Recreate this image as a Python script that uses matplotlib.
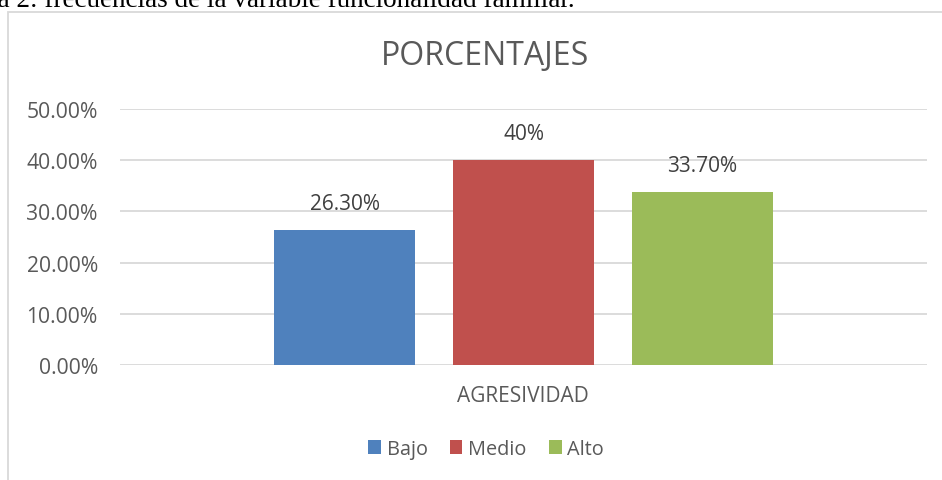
import matplotlib
matplotlib.use("Agg")
import matplotlib.pyplot as plt
from matplotlib.patches import Rectangle

W, H = 942, 481
plt.rcParams["font.family"] = ["Open Sans", "DejaVu Sans"]

CATEGORY = "AGRESIVIDAD"
SERIES = ["Bajo", "Medio", "Alto"]
VALUES = [26.3, 40.0, 33.7]
LABELS = ["26.30%", "40%", "33.70%"]
YTICKS = [0, 10, 20, 30, 40, 50]
COLORS = ["#4F81BD", "#C0504D", "#9BBB59"]
TEXT = "#595959"
GRID = "#D9D9D9"

fig = plt.figure(figsize=(W / 100, H / 100), dpi=100)

# caption line cut off at the top of the page
fig.text(575 / W, 1 - 7 / H, "Figura 2: frecuencias de la variable funcionalidad familiar.",
         family="Liberation Serif", fontsize=19.5, ha="right", va="baseline", color="black")

# chart frame (runs past the right and bottom edges)
fig.patches.append(Rectangle((8 / W, -0.1), 1.2, 1.1 - 13 / H, transform=fig.transFigure,
                             fill=False, edgecolor=GRID, lw=1.3))

ax = fig.add_axes([120 / W, 1 - 366 / H, 807 / W, 256 / H])
xs = [-1, 0, 1]
bars = ax.bar(xs, VALUES, width=0.79, color=COLORS, label=SERIES, zorder=3)
for b, lab in zip(bars, LABELS):
    ax.text(b.get_x() + b.get_width() / 2, b.get_height() + 3.2, lab,
            ha="center", va="bottom", fontsize=15, color="#404040")

ax.set_xlim(-2.26, 2.26)
ax.set_ylim(0, 50)
ax.set_yticks(YTICKS)
ax.set_yticklabels([f"{v:.2f}%" for v in YTICKS], fontsize=15.2, color=TEXT)
ax.set_xticks([])
ax.tick_params(axis="y", length=0, pad=16)
for s in ax.spines.values():
    s.set_visible(False)
ax.grid(axis="y", color=GRID, lw=1.3, zorder=0)
ax.set_axisbelow(True)

fig.text(523 / W, 1 - 397 / H, CATEGORY, ha="center", va="center", fontsize=15, color=TEXT)
fig.text(485 / W, 1 - 57 / H, "PORCENTAJES", ha="center", va="center", fontsize=23, color=TEXT)

fig.legend(handles=bars, labels=SERIES, loc="center", bbox_to_anchor=(486 / W, 1 - 450 / H),
           ncol=3, frameon=False, fontsize=14.3, handlelength=0.65, handleheight=0.65,
           handletextpad=0.3, columnspacing=1.1, labelcolor=TEXT)

fig.savefig("out.png", dpi=100)
